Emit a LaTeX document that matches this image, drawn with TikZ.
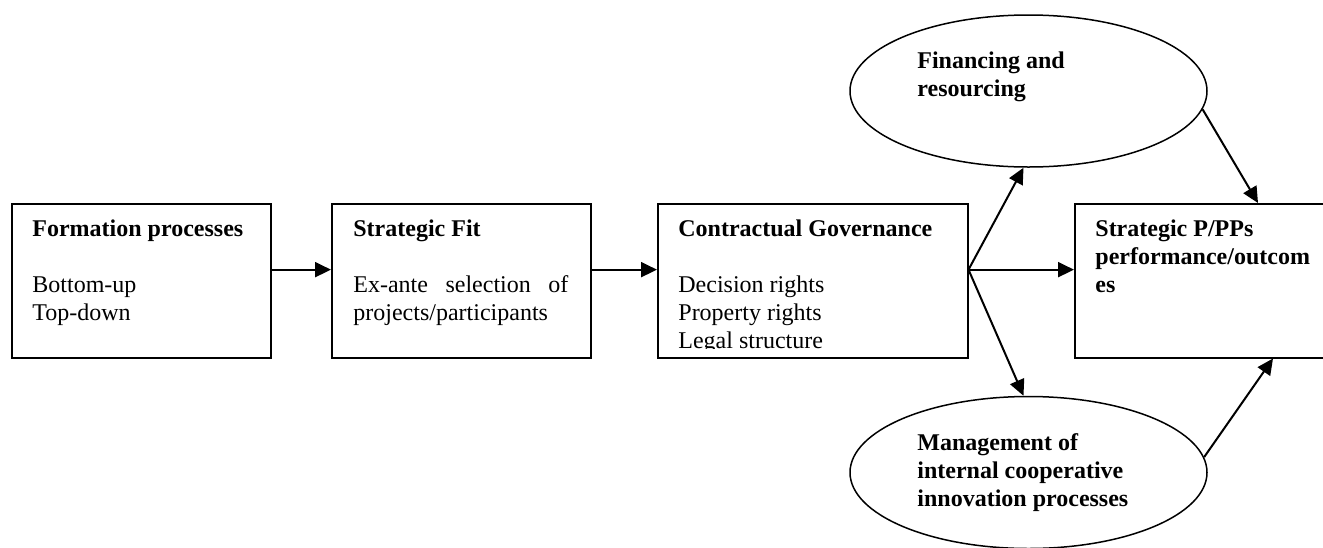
\documentclass[tikz,border=0pt]{standalone}
\usepackage{fontspec}
\setmainfont{Liberation Serif}
\usetikzlibrary{arrows.meta,shapes.geometric,calc}
\begin{document}
\begin{tikzpicture}[x=0.5pt,y=-0.5pt,
  box/.style={draw,line width=0.75pt,rectangle,inner sep=0pt,anchor=north west,minimum height=77pt},
  oval/.style={draw,line width=0.75pt,ellipse,inner sep=0pt,minimum width=178.5pt,minimum height=76pt},
  txt/.style={anchor=base west,inner sep=0pt,font=\fontsize{12pt}{14pt}\selectfont},
  arr/.style={line width=1pt,-{Triangle[length=8pt,width=7.5pt]}}]
\useasboundingbox (0,0) rectangle (1323,547);
% boxes
\node[box,minimum width=129.5pt] (b1) at (11,203) {};
\node[box,minimum width=129.5pt] (b2) at (331,203) {};
\node[box,minimum width=155pt] (b3) at (657,203) {};
\node[box,minimum width=135pt] (b4) at (1074,203) {};
% ellipses
\node[oval] (e1) at (1028.5,91) {};
\node[oval] (e2) at (1028.5,472.5) {};
% texts
\node[txt] (t1) at (32,236) {\parbox[t]{130pt}{\baselineskip=14pt\textbf{Formation processes}\\[14pt]Bottom-up\\Top-down}};
\node[txt] (t2) at (353,236) {\parbox[t]{130pt}{\baselineskip=14pt\textbf{Strategic Fit}\\[14pt]\makebox[107.5pt][s]{Ex-ante selection of}\\projects/participants}};
\begin{scope}
\clip (b3.north west) rectangle ($(b3.north east)+(0,145)$);
\node[txt] (t3) at (678,236) {\parbox[t]{150pt}{\baselineskip=14pt\textbf{Contractual Governance}\\[14pt]Decision rights\\Property rights\\Legal structure}};
\end{scope}
\node[txt] (t4) at (1095,236) {\parbox[t]{130pt}{\baselineskip=14pt\bfseries Strategic P/PPs\\performance/outcom\\es}};
\node[txt] (t5) at (917,68) {\parbox[t]{130pt}{\baselineskip=14pt\bfseries Financing and\\resourcing}};
\node[txt] (t6) at (917,450) {\parbox[t]{130pt}{\baselineskip=14pt\bfseries Management of\\internal cooperative\\innovation processes}};
% connectors
\coordinate (a1) at ($(b1.north east)!0.4286!(b1.south east)$);
\coordinate (a2) at ($(b2.north east)!0.4286!(b2.south east)$);
\coordinate (j) at ($(b3.north east)!0.4286!(b3.south east)$);
\draw[arr] (a1) -- (b2.west |- a1);
\draw[arr] (a2) -- (b3.west |- a2);
\draw[arr] (j) -- (b4.west |- j);
\draw[arr] (j) -- ($(e1.south)+(-5,0)$);
\draw[arr] (j) -- ($(e2.north)+(-5,0)$);
\draw[arr] (e1.-6) -- ($(b4.north west)+(184,0)$);
\draw[arr] (e2.5) -- ($(b4.south west)+(199,0)$);
\end{tikzpicture}
\end{document}
